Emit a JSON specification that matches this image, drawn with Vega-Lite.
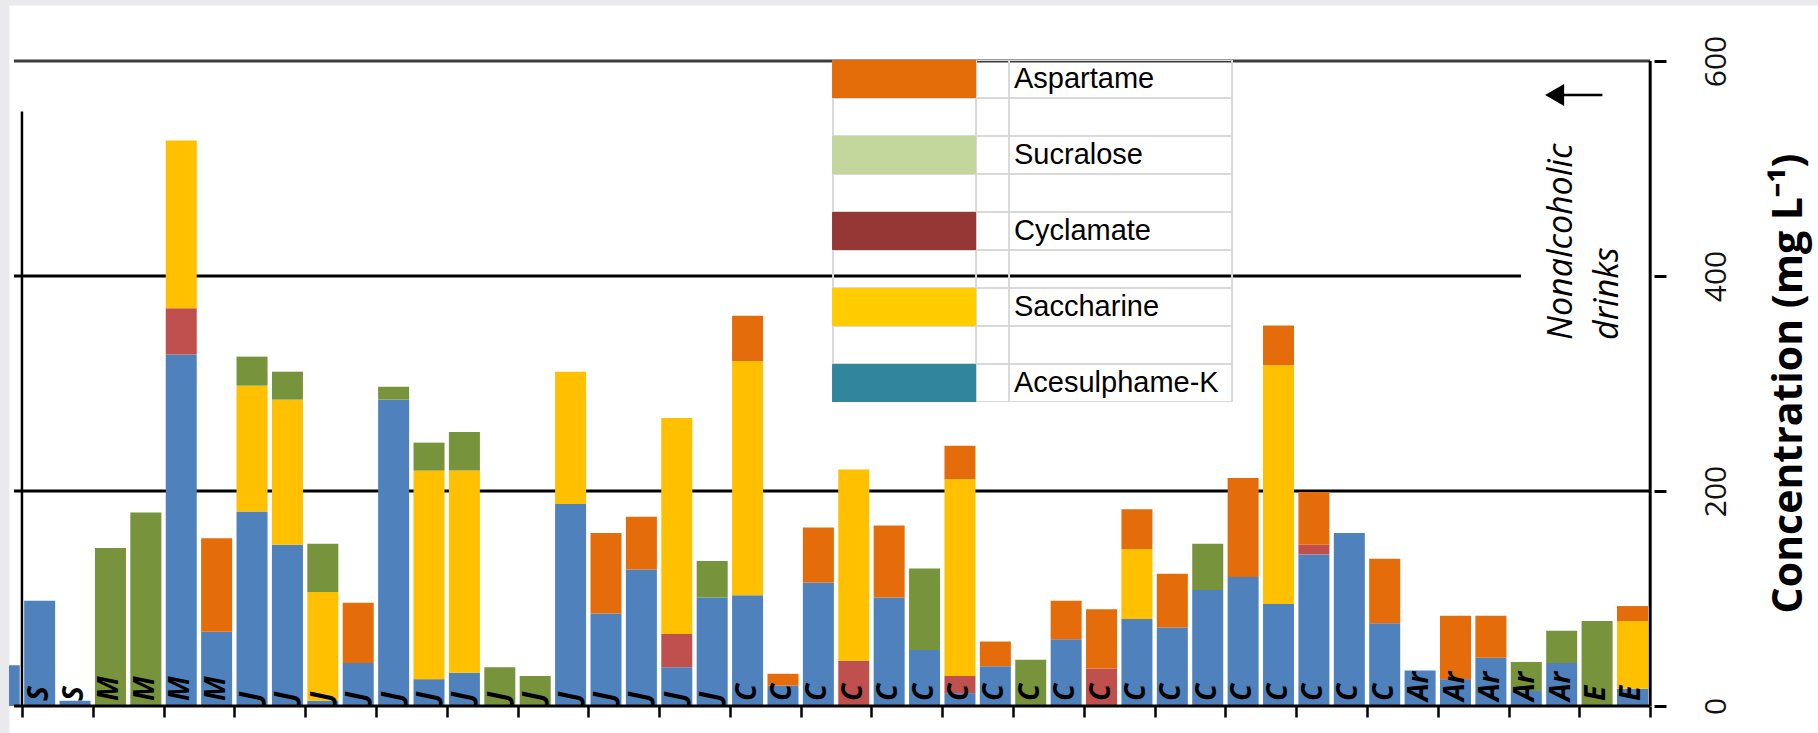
{
  "$schema": "https://vega.github.io/schema/vega-lite/v6.json",
  "width": 1809,
  "height": 728,
  "padding": {"left": 9, "top": 5, "right": 0, "bottom": 0},
  "autosize": {"type": "none"},
  "background": "#EAE9EC",
  "view": {"fill": "#FFFFFF", "stroke": "transparent"},
  "config": {"view": {"fill": "#FFFFFF", "stroke": "transparent"}},
  "datasets": {
    "bars": [
      {"s": -1, "c": "Acesulphame-K", "v": 38},
      {"s": 0, "c": "Acesulphame-K", "v": 98},
      {"s": 1, "c": "Acesulphame-K", "v": 5},
      {"s": 2, "c": "Sucralose", "v": 147},
      {"s": 3, "c": "Sucralose", "v": 180},
      {"s": 4, "c": "Acesulphame-K", "v": 327}, {"s": 4, "c": "Cyclamate", "v": 43}, {"s": 4, "c": "Saccharine", "v": 156},
      {"s": 5, "c": "Acesulphame-K", "v": 69}, {"s": 5, "c": "Aspartame", "v": 87},
      {"s": 6, "c": "Acesulphame-K", "v": 181}, {"s": 6, "c": "Saccharine", "v": 117}, {"s": 6, "c": "Sucralose", "v": 27},
      {"s": 7, "c": "Acesulphame-K", "v": 150}, {"s": 7, "c": "Saccharine", "v": 135}, {"s": 7, "c": "Sucralose", "v": 26},
      {"s": 8, "c": "Acesulphame-K", "v": 5}, {"s": 8, "c": "Saccharine", "v": 101}, {"s": 8, "c": "Sucralose", "v": 45},
      {"s": 9, "c": "Acesulphame-K", "v": 40}, {"s": 9, "c": "Aspartame", "v": 56},
      {"s": 10, "c": "Acesulphame-K", "v": 285}, {"s": 10, "c": "Sucralose", "v": 12},
      {"s": 11, "c": "Acesulphame-K", "v": 25}, {"s": 11, "c": "Saccharine", "v": 194}, {"s": 11, "c": "Sucralose", "v": 26},
      {"s": 12, "c": "Acesulphame-K", "v": 31}, {"s": 12, "c": "Saccharine", "v": 188}, {"s": 12, "c": "Sucralose", "v": 36},
      {"s": 13, "c": "Sucralose", "v": 36},
      {"s": 14, "c": "Sucralose", "v": 28},
      {"s": 15, "c": "Acesulphame-K", "v": 188}, {"s": 15, "c": "Saccharine", "v": 123},
      {"s": 16, "c": "Acesulphame-K", "v": 86}, {"s": 16, "c": "Aspartame", "v": 75},
      {"s": 17, "c": "Acesulphame-K", "v": 127}, {"s": 17, "c": "Aspartame", "v": 49},
      {"s": 18, "c": "Acesulphame-K", "v": 36}, {"s": 18, "c": "Cyclamate", "v": 31}, {"s": 18, "c": "Saccharine", "v": 201},
      {"s": 19, "c": "Acesulphame-K", "v": 101}, {"s": 19, "c": "Sucralose", "v": 34},
      {"s": 20, "c": "Acesulphame-K", "v": 103}, {"s": 20, "c": "Saccharine", "v": 218}, {"s": 20, "c": "Aspartame", "v": 42},
      {"s": 21, "c": "Acesulphame-K", "v": 19}, {"s": 21, "c": "Aspartame", "v": 11},
      {"s": 22, "c": "Acesulphame-K", "v": 115}, {"s": 22, "c": "Aspartame", "v": 51},
      {"s": 23, "c": "Cyclamate", "v": 42}, {"s": 23, "c": "Saccharine", "v": 178},
      {"s": 24, "c": "Acesulphame-K", "v": 101}, {"s": 24, "c": "Aspartame", "v": 67},
      {"s": 25, "c": "Acesulphame-K", "v": 52}, {"s": 25, "c": "Sucralose", "v": 76},
      {"s": 26, "c": "Acesulphame-K", "v": 12}, {"s": 26, "c": "Cyclamate", "v": 16}, {"s": 26, "c": "Saccharine", "v": 183}, {"s": 26, "c": "Aspartame", "v": 31},
      {"s": 27, "c": "Acesulphame-K", "v": 37}, {"s": 27, "c": "Aspartame", "v": 23},
      {"s": 28, "c": "Sucralose", "v": 43},
      {"s": 29, "c": "Acesulphame-K", "v": 62}, {"s": 29, "c": "Aspartame", "v": 36},
      {"s": 30, "c": "Cyclamate", "v": 35}, {"s": 30, "c": "Aspartame", "v": 55},
      {"s": 31, "c": "Acesulphame-K", "v": 81}, {"s": 31, "c": "Saccharine", "v": 65}, {"s": 31, "c": "Aspartame", "v": 37},
      {"s": 32, "c": "Acesulphame-K", "v": 73}, {"s": 32, "c": "Aspartame", "v": 50},
      {"s": 33, "c": "Acesulphame-K", "v": 108}, {"s": 33, "c": "Sucralose", "v": 43},
      {"s": 34, "c": "Acesulphame-K", "v": 120}, {"s": 34, "c": "Aspartame", "v": 92},
      {"s": 35, "c": "Acesulphame-K", "v": 95}, {"s": 35, "c": "Saccharine", "v": 222}, {"s": 35, "c": "Aspartame", "v": 37},
      {"s": 36, "c": "Acesulphame-K", "v": 141}, {"s": 36, "c": "Cyclamate", "v": 9}, {"s": 36, "c": "Aspartame", "v": 49},
      {"s": 37, "c": "Acesulphame-K", "v": 161},
      {"s": 38, "c": "Acesulphame-K", "v": 77}, {"s": 38, "c": "Aspartame", "v": 60},
      {"s": 39, "c": "Acesulphame-K", "v": 33},
      {"s": 40, "c": "Acesulphame-K", "v": 25}, {"s": 40, "c": "Aspartame", "v": 59},
      {"s": 41, "c": "Acesulphame-K", "v": 45}, {"s": 41, "c": "Aspartame", "v": 39},
      {"s": 42, "c": "Acesulphame-K", "v": 14}, {"s": 42, "c": "Sucralose", "v": 27},
      {"s": 43, "c": "Acesulphame-K", "v": 40}, {"s": 43, "c": "Sucralose", "v": 30},
      {"s": 44, "c": "Sucralose", "v": 79},
      {"s": 45, "c": "Acesulphame-K", "v": 16}, {"s": 45, "c": "Saccharine", "v": 63}, {"s": 45, "c": "Aspartame", "v": 14}
    ],
    "samples": [
      {"s": 0, "cat": "S"}, {"s": 1, "cat": "S"},
      {"s": 2, "cat": "M"}, {"s": 3, "cat": "M"}, {"s": 4, "cat": "M"}, {"s": 5, "cat": "M"},
      {"s": 6, "cat": "J"}, {"s": 7, "cat": "J"}, {"s": 8, "cat": "J"}, {"s": 9, "cat": "J"}, {"s": 10, "cat": "J"},
      {"s": 11, "cat": "J"}, {"s": 12, "cat": "J"}, {"s": 13, "cat": "J"}, {"s": 14, "cat": "J"}, {"s": 15, "cat": "J"},
      {"s": 16, "cat": "J"}, {"s": 17, "cat": "J"}, {"s": 18, "cat": "J"}, {"s": 19, "cat": "J"},
      {"s": 20, "cat": "C"}, {"s": 21, "cat": "C"}, {"s": 22, "cat": "C"}, {"s": 23, "cat": "C"}, {"s": 24, "cat": "C"},
      {"s": 25, "cat": "C"}, {"s": 26, "cat": "C"}, {"s": 27, "cat": "C"}, {"s": 28, "cat": "C"}, {"s": 29, "cat": "C"},
      {"s": 30, "cat": "C"}, {"s": 31, "cat": "C"}, {"s": 32, "cat": "C"}, {"s": 33, "cat": "C"}, {"s": 34, "cat": "C"},
      {"s": 35, "cat": "C"}, {"s": 36, "cat": "C"}, {"s": 37, "cat": "C"}, {"s": 38, "cat": "C"},
      {"s": 39, "cat": "Ar"}, {"s": 40, "cat": "Ar"}, {"s": 41, "cat": "Ar"}, {"s": 42, "cat": "Ar"}, {"s": 43, "cat": "Ar"},
      {"s": 44, "cat": "E"}, {"s": 45, "cat": "E"}
    ]
  },
  "layer": [
    {
      "data": {"values": [{}]},
      "mark": {"type": "rule", "color": "#3C3C3C", "strokeWidth": 3},
      "encoding": {
        "x": {"datum": -0.725, "type": "quantitative"},
        "x2": {"datum": 45.5},
        "y": {"datum": 600, "type": "quantitative"}
      }
    },
    {
      "data": {"values": [{}]},
      "mark": {"type": "rule", "color": "#000000", "strokeWidth": 3},
      "encoding": {
        "x": {"datum": -0.725, "type": "quantitative"},
        "x2": {"datum": 41.85},
        "y": {"datum": 400, "type": "quantitative"}
      }
    },
    {
      "data": {"values": [{}]},
      "mark": {"type": "rule", "color": "#000000", "strokeWidth": 3},
      "encoding": {
        "x": {"datum": -0.725, "type": "quantitative"},
        "x2": {"datum": 45.5},
        "y": {"datum": 200, "type": "quantitative"}
      }
    },
    {
      "data": {"values": [{}]},
      "mark": {"type": "rule", "color": "#000000", "strokeWidth": 2.5},
      "encoding": {
        "x": {"datum": -0.5, "type": "quantitative"},
        "y": {"datum": 0, "type": "quantitative"},
        "y2": {"datum": 553}
      }
    },
    {
      "data": {"name": "bars"},
      "transform": [
        {"calculate": "indexof(['Acesulphame-K','Cyclamate','Saccharine','Sucralose','Aspartame'], datum.c)", "as": "stackpos"}
      ],
      "mark": {"type": "bar", "width": 31, "clip": true},
      "encoding": {
        "x": {
          "field": "s",
          "type": "quantitative",
          "scale": {"domain": [-0.725, 50.1], "nice": false, "zero": false},
          "axis": {
            "orient": "bottom",
            "offset": -27,
            "values": [-0.5, 0.5, 1.5, 2.5, 3.5, 4.5, 5.5, 6.5, 7.5, 8.5, 9.5, 10.5, 11.5, 12.5, 13.5, 14.5, 15.5, 16.5, 17.5, 18.5, 19.5, 20.5, 21.5, 22.5, 23.5, 24.5, 25.5, 26.5, 27.5, 28.5, 29.5, 30.5, 31.5, 32.5, 33.5, 34.5, 35.5, 36.5, 37.5, 38.5, 39.5, 40.5, 41.5, 42.5, 43.5, 44.5, 45.5],
            "labels": false,
            "domain": false,
            "grid": false,
            "ticks": true,
            "tickSize": 11,
            "tickWidth": 2.5,
            "tickColor": "#000000",
            "title": null
          }
        },
        "y": {
          "field": "v",
          "type": "quantitative",
          "stack": "zero",
          "scale": {"domain": [-25.1, 652.1], "nice": false, "zero": false},
          "axis": {
            "orient": "right",
            "offset": -164,
            "values": [0, 200, 400, 600],
            "grid": false,
            "domain": false,
            "ticks": true,
            "tickSize": 12,
            "tickWidth": 3,
            "tickColor": "#000000",
            "labelAngle": 270,
            "labelAlign": "center",
            "labelBaseline": "middle",
            "labelPadding": 50,
            "labelFont": "Open Sans",
            "labelFontSize": 30,
            "labelColor": "#111111",
            "title": "Concentration (mg L⁻¹)",
            "titleFont": "Open Sans",
            "titleFontWeight": "bold",
            "titleFontSize": 41,
            "titleColor": "#000000",
            "titleAngle": 270,
            "titleAlign": "center",
            "titleBaseline": "middle",
            "titleX": 135,
            "titleY": 378
          }
        },
        "color": {
          "field": "c",
          "type": "nominal",
          "scale": {
            "domain": ["Acesulphame-K", "Cyclamate", "Saccharine", "Sucralose", "Aspartame"],
            "range": ["#4F81BD", "#C0504D", "#FFC000", "#77933C", "#E46C0A"]
          },
          "legend": null
        },
        "order": {"field": "stackpos", "type": "quantitative", "sort": "ascending"}
      }
    },
    {
      "data": {"values": [{}]},
      "mark": {"type": "rule", "color": "#000000", "strokeWidth": 3},
      "encoding": {
        "x": {"datum": -0.725, "type": "quantitative"},
        "x2": {"datum": 45.5},
        "y": {"datum": 0, "type": "quantitative"}
      }
    },
    {
      "data": {"values": [{}]},
      "mark": {"type": "rule", "color": "#000000", "strokeWidth": 3},
      "encoding": {
        "x": {"datum": 45.5, "type": "quantitative"},
        "y": {"datum": 0, "type": "quantitative"},
        "y2": {"datum": 600}
      }
    },
    {
      "data": {"name": "samples"},
      "mark": {"type": "text", "angle": 270, "align": "left", "baseline": "middle", "dx": 5, "font": "Open Sans", "fontStyle": "italic", "fontWeight": "bold", "fontSize": 28, "color": "#000000"},
      "encoding": {
        "x": {"field": "s", "type": "quantitative", "title": null},
        "y": {"datum": 0, "type": "quantitative"},
        "text": {"field": "cat"}
      }
    },
    {
      "data": {"values": [{}]},
      "mark": {"type": "text", "text": ["Nonalcoholic", "drinks"], "angle": 270, "align": "left", "baseline": "middle", "lineHeight": 46, "font": "Open Sans", "fontStyle": "italic", "fontSize": 34, "color": "#000000"},
      "encoding": {
        "x": {"datum": 43.02, "type": "quantitative"},
        "y": {"datum": 340.5, "type": "quantitative"}
      }
    },
    {
      "data": {"values": [{}]},
      "mark": {"type": "rule", "color": "#000000", "strokeWidth": 2.7},
      "encoding": {
        "x": {"datum": 43.05, "type": "quantitative"},
        "x2": {"datum": 44.15},
        "y": {"datum": 568.4, "type": "quantitative"}
      }
    },
    {
      "data": {"values": [{}]},
      "mark": {"type": "point", "shape": "triangle-left", "filled": true, "size": 480, "color": "#000000", "opacity": 1},
      "encoding": {
        "x": {"datum": 42.8, "type": "quantitative"},
        "y": {"datum": 568.4, "type": "quantitative"}
      }
    },
    {
      "data": {"values": [{"g": "r1"}]},
      "transform": [{"filter": "false"}],
      "mark": {"type": "point", "filled": true, "opacity": 1, "color": "#D9D9D9"},
      "encoding": {
        "shape": {
          "field": "g",
          "type": "nominal",
          "scale": {
            "domain": ["r1", "r2", "r3", "r4", "r5", "r6", "r7", "r8", "r9"],
            "range": [
              "M-1,-1H20.161V-0.9472H-1Z M-1,0.9472H20.161V1H-1Z M-1,-1H-0.8945V1H-1Z M6.546,-1H6.652V1H6.546Z M8.287,-1H8.393V1H8.287Z M20.055,-1H20.161V1H20.055Z",
              "M-1,-1H20.161V-0.9472H-1Z M-1,0.9472H20.161V1H-1Z M-1,-1H-0.8945V1H-1Z M6.546,-1H6.652V1H6.546Z M8.287,-1H8.393V1H8.287Z M20.055,-1H20.161V1H20.055Z",
              "M-1,-1H20.161V-0.9472H-1Z M-1,0.9472H20.161V1H-1Z M-1,-1H-0.8945V1H-1Z M6.546,-1H6.652V1H6.546Z M8.287,-1H8.393V1H8.287Z M20.055,-1H20.161V1H20.055Z",
              "M-1,-1H20.161V-0.9472H-1Z M-1,0.9472H20.161V1H-1Z M-1,-1H-0.8945V1H-1Z M6.546,-1H6.652V1H6.546Z M8.287,-1H8.393V1H8.287Z M20.055,-1H20.161V1H20.055Z",
              "M-1,-1H20.161V-0.9472H-1Z M-1,0.9472H20.161V1H-1Z M-1,-1H-0.8945V1H-1Z M6.546,-1H6.652V1H6.546Z M8.287,-1H8.393V1H8.287Z M20.055,-1H20.161V1H20.055Z",
              "M-1,-1H20.161V-0.9472H-1Z M-1,0.9472H20.161V1H-1Z M-1,-1H-0.8945V1H-1Z M6.546,-1H6.652V1H6.546Z M8.287,-1H8.393V1H8.287Z M20.055,-1H20.161V1H20.055Z",
              "M-1,-1H20.161V-0.9472H-1Z M-1,0.9472H20.161V1H-1Z M-1,-1H-0.8945V1H-1Z M6.546,-1H6.652V1H6.546Z M8.287,-1H8.393V1H8.287Z M20.055,-1H20.161V1H20.055Z",
              "M-1,-1H20.161V-0.9472H-1Z M-1,0.9472H20.161V1H-1Z M-1,-1H-0.8945V1H-1Z M6.546,-1H6.652V1H6.546Z M8.287,-1H8.393V1H8.287Z M20.055,-1H20.161V1H20.055Z",
              "M-1,-1H20.161V-0.9472H-1Z M-1,0.9472H20.161V1H-1Z M-1,-1H-0.8945V1H-1Z M6.546,-1H6.652V1H6.546Z M8.287,-1H8.393V1H8.287Z M20.055,-1H20.161V1H20.055Z"
            ]
          },
          "legend": {
            "orient": "none",
            "legendX": 823,
            "legendY": 55,
            "title": null,
            "symbolSize": 1436.41,
            "symbolStrokeWidth": 0,
            "symbolFillColor": "#D9D9D9",
            "symbolOffset": 0,
            "labelExpr": "''",
            "labelFontSize": 20,
            "labelOffset": 144,
            "rowPadding": 0,
            "padding": 0
          }
        }
      }
    },
    {
      "data": {"values": [{"k": "Aspartame"}]},
      "transform": [{"filter": "false"}],
      "mark": {"type": "point", "filled": true, "opacity": 1},
      "encoding": {
        "fill": {
          "field": "k",
          "type": "nominal",
          "scale": {
            "domain": ["Aspartame", " ", "Sucralose", "  ", "Cyclamate", "   ", "Saccharine", "    ", "Acesulphame-K"],
            "range": ["#E36C09", "transparent", "#C3D69B", "transparent", "#953735", "transparent", "#FFCC00", "transparent", "#31859C"]
          },
          "legend": {
            "orient": "none",
            "legendX": 823,
            "legendY": 55,
            "title": null,
            "symbolType": "M-1,-1H6.599V1H-1Z",
            "symbolSize": 1436.41,
            "symbolStrokeWidth": 0,
            "symbolOffset": 0,
            "labelFont": "Liberation Sans",
            "labelFontSize": 29,
            "labelColor": "#000000",
            "labelOffset": 144,
            "labelLimit": 400,
            "rowPadding": 0,
            "padding": 0
          }
        }
      }
    }
  ]
}
